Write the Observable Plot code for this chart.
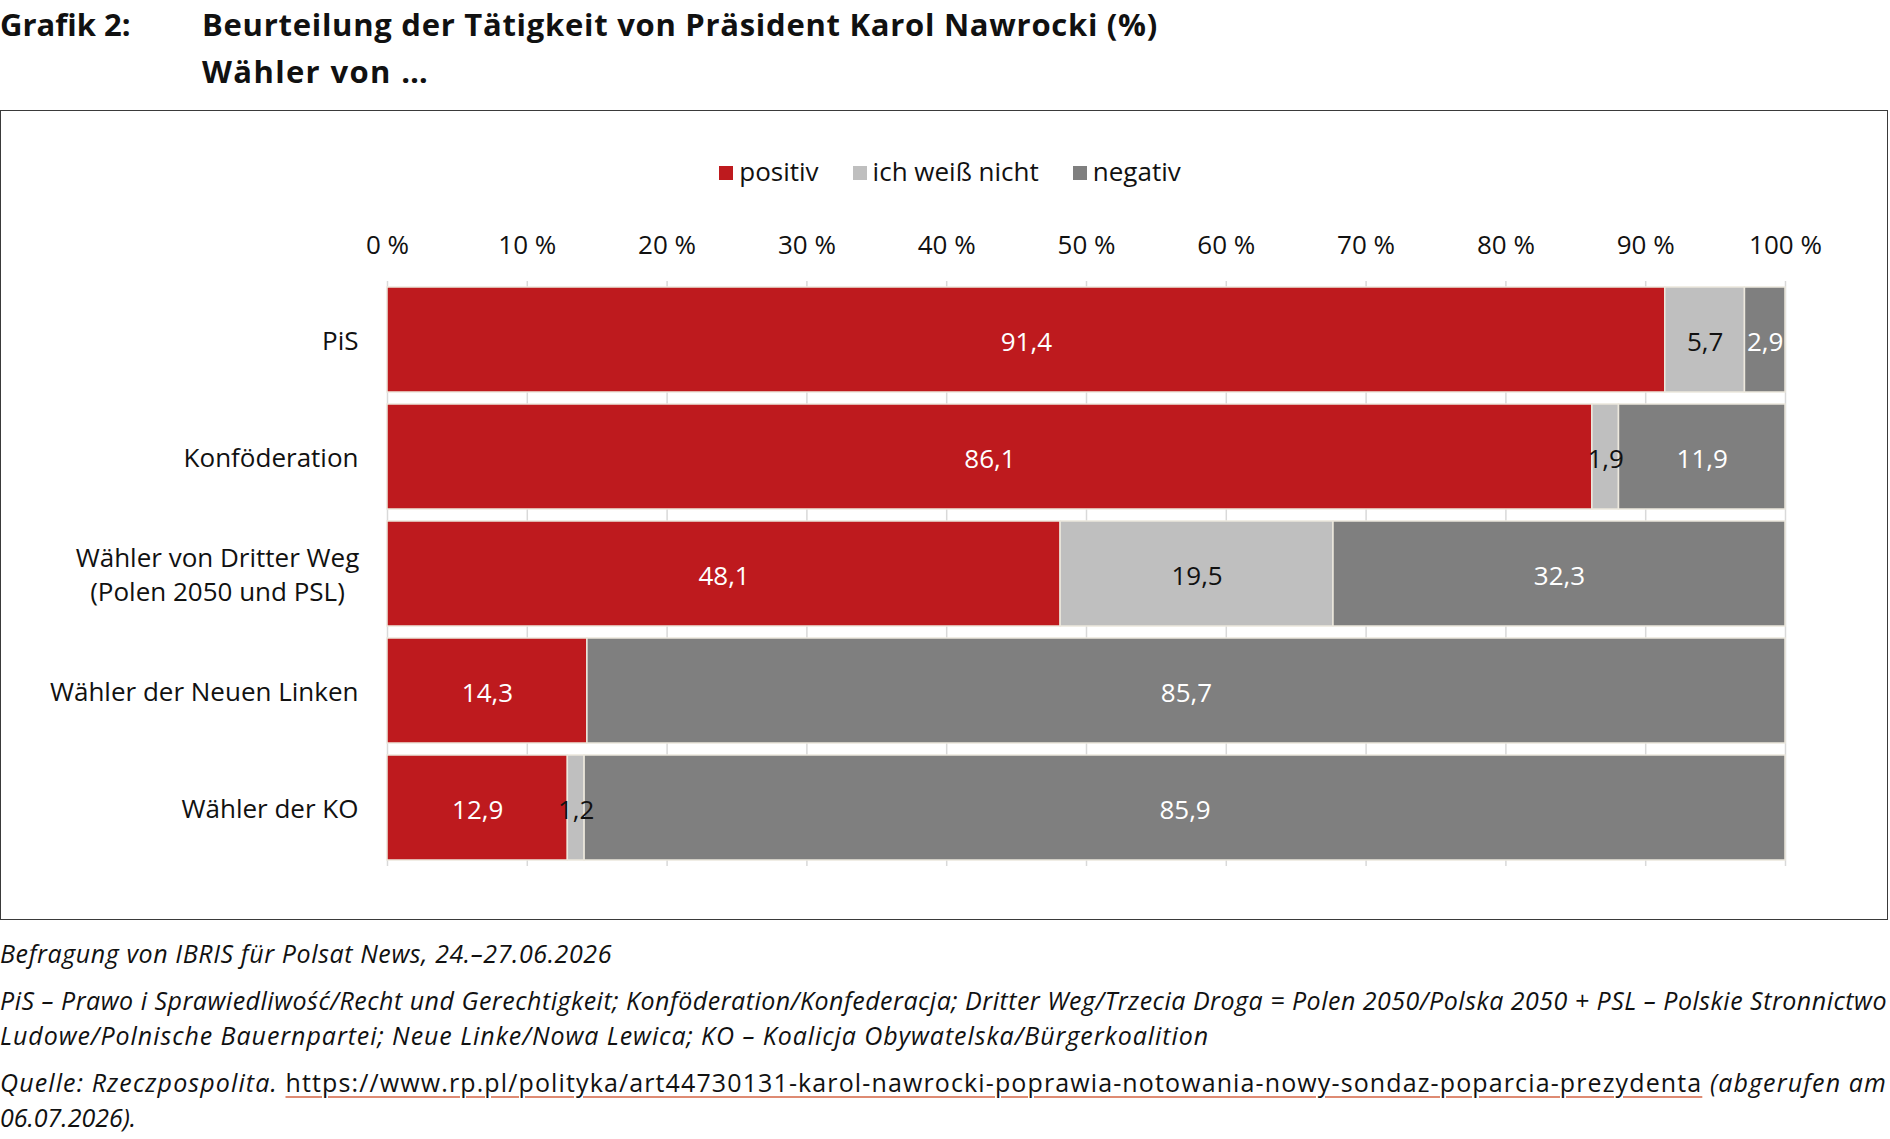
<!DOCTYPE html>
<html>
<head>
<meta charset="utf-8">
<script src="https://cdn.jsdelivr.net/npm/d3@7"></script>
<script src="https://cdn.jsdelivr.net/npm/@observablehq/plot@0.6"></script>
<style>
  html, body { margin: 0; padding: 0; background: #fff; }
  body { width: 1890px; height: 1139px; overflow: hidden; position: relative; font-family: "Open Sans", sans-serif; color: #111; }
  .title { position: absolute; font-weight: 700; font-size: 31px; line-height: 47px; white-space: nowrap; }
  #box { position: absolute; left: 0; top: 110px; width: 1886px; height: 808px; border: 1px solid #3a3a3a; }
  #legend { position: absolute; left: 0; right: 0; top: 45px; height: 30px; display: flex; justify-content: center; align-items: center; padding-left: 12px; font-size: 26px; }
  .item { display: flex; align-items: center; margin: 0 17px; }
  .sw { width: 14px; height: 14px; margin-right: 6px; margin-top: 3px; }
  #chart { position: absolute; left: 0; top: 100px; }
  .cap { position: absolute; left: 0; font-size: 25px; line-height: 34px; font-style: italic; white-space: nowrap; }
  .url { font-style: normal; text-decoration: underline; text-decoration-color: #de8a72; text-decoration-thickness: 2px; text-underline-offset: 4px; }
</style>
</head>
<body>
<div class="title" id="t0" style="left:0; top:1px;">Grafik 2:</div>
<div class="title" id="t1" style="left:202px; top:1px;">Beurteilung der Tätigkeit von Präsident Karol Nawrocki (%)</div>
<div class="title" id="t2" style="left:202px; top:48px;">Wähler von …</div>
<div id="box">
  <div id="legend"></div>
  <div id="chart"></div>
</div>
<div class="cap" id="c1" style="top:936px;">Befragung von IBRIS für Polsat News, 24.–27.06.2026</div>
<div class="cap" id="c2" style="top:983px;">PiS – Prawo i Sprawiedliwość/Recht und Gerechtigkeit; Konföderation/Konfederacja; Dritter Weg/Trzecia Droga = Polen 2050/Polska 2050 + PSL – Polskie Stronnictwo</div>
<div class="cap" id="c3" style="top:1018px;">Ludowe/Polnische Bauernpartei; Neue Linke/Nowa Lewica; KO – Koalicja Obywatelska/Bürgerkoalition</div>
<div class="cap" id="c4" style="top:1065px;">Quelle: Rzeczpospolita. <span class="url">https://www.rp.pl/polityka/art44730131-karol-nawrocki-poprawia-notowania-nowy-sondaz-poparcia-prezydenta</span> (abgerufen am</div>
<div class="cap" id="c5" style="top:1100px;">06.07.2026).</div>
<script>
// ---- data ----
const categories = ["PiS", "Konföderation", "Wähler von Dritter Weg\n(Polen 2050 und PSL)", "Wähler der Neuen Linken", "Wähler der KO"];
const responses = ["positiv", "ich weiß nicht", "negativ"];
const positiv = [91.4, 86.1, 48.1, 14.3, 12.9];
const weissNicht = [5.7, 1.9, 19.5, 0, 1.2];
const negativ = [2.9, 11.9, 32.3, 85.7, 85.9];
const xTicks = [0, 10, 20, 30, 40, 50, 60, 70, 80, 90, 100];
const colors = ["#be1a1e", "#bfbfbf", "#7f7f7f"];

const series = [positiv, weissNicht, negativ];
const data = [];
categories.forEach((c, i) => {
  responses.forEach((r, j) => data.push({cat: c, resp: r, value: series[j][i]}));
});
const fmt = v => d3.format(".1f")(v).replace(".", ",");

// legend
const legend = document.getElementById("legend");
responses.forEach((r, j) => {
  const it = document.createElement("div");
  it.className = "item";
  it.innerHTML = `<span class="sw" style="background:${colors[j]}"></span><span>${r}</span>`;
  legend.appendChild(it);
});

const multi = categories[2];
const tickFrac = xTicks.map(d => d / 100);
const chart = Plot.plot({
  width: 1886,
  height: 708,
  marginTop: 70,
  marginBottom: 53,
  marginLeft: 386,
  marginRight: 102,
  style: {fontFamily: "'Open Sans', sans-serif", color: "#111", background: "transparent"},
  x: {domain: [0, 1], axis: null},
  y: {domain: categories, paddingInner: 0.1, paddingOuter: 0.05, axis: null},
  color: {domain: responses, range: colors},
  marks: [
    Plot.gridX(tickFrac, {stroke: "#d9d9d9", strokeOpacity: 1, strokeWidth: 1.5}),
    Plot.barX(data, Plot.stackX({offset: "normalize", x: "value", y: "cat", z: "resp", fill: "resp", stroke: "#ece8dd", strokeWidth: 1.5})),
    Plot.text(data, Plot.stackX({
      offset: "normalize",
      x: "value", y: "cat", z: "resp",
      text: d => d.value > 0 ? fmt(d.value) : "",
      fill: d => d.resp === "ich weiß nicht" ? "#111" : "#fff",
      fontSize: 26, dy: 3
    })),
    Plot.axisX(tickFrac, {anchor: "top", tickSize: 0, tickPadding: 28, tickFormat: d => `${Math.round(d * 100)} %`, fontSize: 26, label: null}),
    Plot.axisY({tickSize: 0, tickPadding: 29, tickFormat: d => d === multi ? "" : d, fontSize: 26, label: null, dy: 2}),
    Plot.text([multi], {y: d => d, text: d => d, frameAnchor: "left", textAnchor: "middle", dx: -170, dy: -1, lineHeight: 1.3, fontSize: 26, fill: "#111"})
  ]
});
document.getElementById("chart").appendChild(chart);

// fit text widths to reference
function fit(id, target) {
  const el = document.getElementById(id);
  const w = el.getBoundingClientRect().width;
  const n = el.textContent.length;
  el.style.letterSpacing = ((target - w) / n) + "px";
}
fit("t1", 956);
fit("t2", 227);
fit("c1", 612);
fit("c2", 1887);
fit("c3", 1209);
fit("c4", 1887);
</script>
</body>
</html>
